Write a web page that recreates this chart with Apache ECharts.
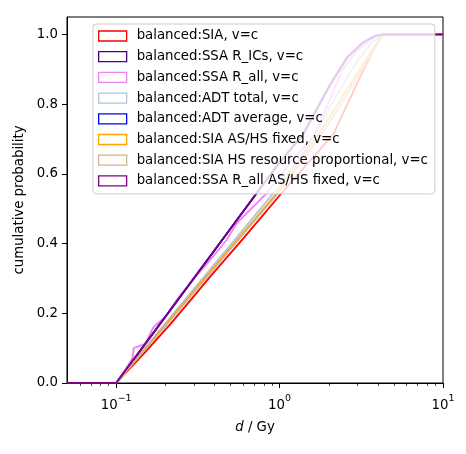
<!DOCTYPE html>
<html>
<head>
<meta charset="utf-8">
<title>cdf</title>
<script src="https://cdn.jsdelivr.net/npm/echarts@6/dist/echarts.min.js"></script>
<style>
html,body{margin:0;padding:0;background:#fff;}
#cdfChart{width:466px;height:454px;}
</style>
</head>
<body>
<div id="cdfChart"></div>
<script>
var seriesNames = [
	'balanced:SIA, v=c',
	'balanced:SSA R_ICs, v=c',
	'balanced:SSA R_all, v=c',
	'balanced:ADT total, v=c',
	'balanced:ADT average, v=c',
	'balanced:SIA AS/HS fixed, v=c',
	'balanced:SIA HS resource proportional, v=c',
	'balanced:SSA R_all AS/HS fixed, v=c'
];
var seriesColors = ['#ff0000', '#4b0082', '#ee82ee', '#b0c4de', '#0000ff', '#ffa500', '#d2b48c', '#800080'];

// dose d (Gy) and cumulative probability of each curve
var dSIA = [0.05, 0.1, 0.15, 0.214, 0.3, 0.376, 0.6, 1.03, 1.5, 2.13, 2.6, 3.2, 3.8, 4.3, 10];
var pSIA = [0, 0, 0.088, 0.168, 0.25, 0.305, 0.415, 0.545, 0.632, 0.713, 0.80, 0.89, 0.96, 1, 1];

var dRICs = [0.05, 0.1, 0.2, 0.4, 0.727, 1.0, 1.39, 2.04, 2.59, 3.24, 3.8, 4.3, 10];
var pRICs = [0, 0, 0.19, 0.381, 0.546, 0.633, 0.713, 0.856, 0.934, 0.977, 0.995, 1, 1];

var dRall = [0.05, 0.1, 0.118, 0.126, 0.128, 0.15, 0.169, 0.2, 0.235, 0.3, 0.376, 0.475, 0.547, 0.836, 1.2, 1.65, 2.4, 2.96, 3.6, 4.12, 10];
var pRall = [0, 0, 0.05, 0.072, 0.1, 0.112, 0.16, 0.19, 0.239, 0.30, 0.353, 0.411, 0.459, 0.545, 0.64, 0.713, 0.895, 0.952, 0.985, 1, 1];

var dADTtotal = [0.05, 0.1, 0.2, 0.4, 0.917, 1.5, 2.2, 3.0, 3.7, 4.3, 10];
var pADTtotal = [0, 0, 0.171, 0.341, 0.545, 0.68, 0.82, 0.925, 0.978, 1, 1];

// ADT average and SSA R_all AS/HS fixed lie on top of SSA R_ICs
var dADTavg = dRICs, pADTavg = pRICs;
var dRallFixed = dRICs, pRallFixed = pRICs;

var dASHS = [0.05, 0.1, 0.2, 0.4, 0.962, 1.73, 2.5, 3.5, 4.12, 4.4, 10];
var pASHS = [0, 0, 0.167, 0.334, 0.545, 0.713, 0.831, 0.938, 0.99, 1, 1];

var dHSprop = [0.05, 0.1, 0.2, 0.4, 0.98, 1.8, 2.6, 3.5, 4.15, 4.4, 10];
var pHSprop = [0, 0, 0.163, 0.33, 0.545, 0.71, 0.83, 0.93, 0.99, 1, 1];

var yTicks = [0, 0.2, 0.4, 0.6, 0.8, 1.0];
var xMajorTicks = [0.1, 1, 10];
var xMinorTicks = [0.06, 0.07, 0.08, 0.09, 0.2, 0.3, 0.4, 0.5, 0.6, 0.7, 0.8, 0.9, 2, 3, 4, 5, 6, 7, 8, 9];

var curves = [
	[dSIA, pSIA], [dRICs, pRICs], [dRall, pRall], [dADTtotal, pADTtotal],
	[dADTavg, pADTavg], [dASHS, pASHS], [dHSprop, pHSprop], [dRallFixed, pRallFixed]
];

var FONT = 'DejaVu Sans';

var chart = echarts.init(document.getElementById('cdfChart'));

var series = curves.map(function(c, i){
	return {
		name: seriesNames[i],
		type: 'line',
		symbol: 'none',
		showSymbol: false,
		lineStyle: { color: seriesColors[i], width: 1.8 },
		itemStyle: { color: seriesColors[i] },
		data: c[0].map(function(d, k){ return [d, c[1][k]]; })
	};
});

var option = {
	animation: false,
	backgroundColor: '#fff',
	textStyle: { fontFamily: FONT },
	grid: {
		left: 67, top: 17, width: 376, height: 366,
		show: true, borderColor: '#000', borderWidth: 1,
		containLabel: false, outerBoundsMode: 'none'
	},
	legend: {
		orient: 'vertical',
		left: 93, top: 24,
		icon: 'rect',
		itemWidth: 28, itemHeight: 10, itemGap: 6.7,
		padding: [5, 7, 6, 5],
		backgroundColor: 'rgba(255,255,255,0.8)',
		borderColor: '#cccccc', borderWidth: 1, borderRadius: 3,
		textStyle: { fontFamily: FONT, fontSize: 13.3, color: '#000', lineHeight: 14, padding: [0, 0, 0, 5] },
		data: seriesNames.map(function(n, i){
			return { name: n, itemStyle: { color: 'rgba(0,0,0,0)', borderColor: seriesColors[i], borderWidth: 1.3 } };
		})
	},
	xAxis: [{
		type: 'log', logBase: 10, min: 0.05, max: 10,
		position: 'bottom',
		name: '{i|d} / Gy', nameLocation: 'middle', nameGap: 38,
		nameTextStyle: { fontFamily: FONT, fontSize: 13.3, color: '#000',
			rich: { i: { fontFamily: FONT, fontSize: 13.3, fontStyle: 'italic', color: '#000' } } },
		axisLine: { show: true, lineStyle: { color: '#000', width: 1 } },
		axisTick: { show: true, length: 5, lineStyle: { color: '#000', width: 1 }, customValues: xMajorTicks },
		axisLabel: {
			margin: 11, customValues: xMajorTicks,
			formatter: function(v){
				var e = Math.round(Math.log(v) / Math.LN10);
				return '{b|10}{s|' + (e < 0 ? '\u2212' + (-e) : e) + '}';
			},
			rich: {
				b: { fontFamily: FONT, fontSize: 13.3, color: '#000', lineHeight: 18, verticalAlign: 'bottom' },
				s: { fontFamily: FONT, fontSize: 9.5, color: '#000', lineHeight: 10, verticalAlign: 'top' }
			}
		},
		splitLine: { show: false },
		minorTick: { show: false }
	}, {
		// second axis only carries the minor ticks
		type: 'log', logBase: 10, min: 0.05, max: 10,
		position: 'bottom',
		axisLine: { show: false },
		axisTick: { show: true, length: 2.8, lineStyle: { color: '#000', width: 0.8 }, customValues: xMinorTicks },
		axisLabel: { show: false },
		splitLine: { show: false }
	}],
	yAxis: {
		type: 'value', min: 0, max: 1.05,
		name: 'cumulative probability', nameLocation: 'middle', nameGap: 40,
		nameTextStyle: { fontFamily: FONT, fontSize: 13.3, color: '#000' },
		axisLine: { show: true, lineStyle: { color: '#000', width: 1 } },
		axisTick: { show: true, length: 5, lineStyle: { color: '#000', width: 1 }, customValues: yTicks },
		axisLabel: {
			margin: 9, customValues: yTicks,
			fontFamily: FONT, fontSize: 13.3, color: '#000',
			formatter: function(v){ return v.toFixed(1); }
		},
		splitLine: { show: false }
	},
	series: series
};

chart.setOption(option);
</script>
</body>
</html>
